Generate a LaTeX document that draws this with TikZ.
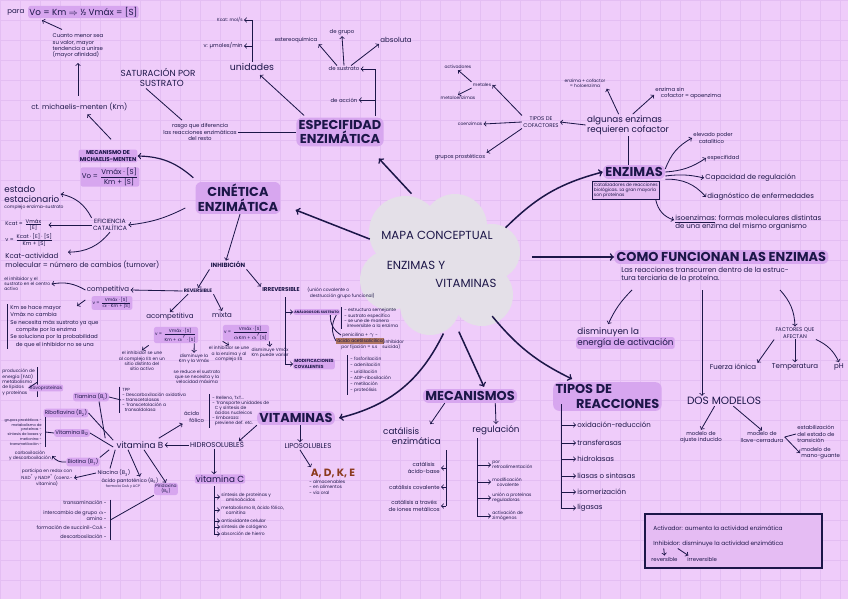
\documentclass[tikz,border=0pt]{standalone}
\usepackage{fontspec}
\setmainfont{Poppins}
\usetikzlibrary{shapes.geometric}

\definecolor{paper}{HTML}{EFCCFA}
\definecolor{gridc}{HTML}{E4BEF3}
\definecolor{ink}{HTML}{1C1648}
\definecolor{hl}{HTML}{D7A6EF}
\definecolor{cloudc}{HTML}{E4E0E8}
\definecolor{rust}{HTML}{8B3A1E}
\definecolor{boxc}{HTML}{E5BCF3}

\newcommand{\frx}[2]{$\frac{\mbox{#1}}{\mbox{#2}}$}
\newcommand{\frxb}[2]{$\frac{\mbox{#1}}{\mbox{\rule{0pt}{1.5em}#2}}$}

\tikzset{
	every node/.style={text=ink, inner sep=1pt},
	ttl/.style={font=\fontsize{11}{12.5}\selectfont\bfseries, fill=hl, rounded corners=5pt, align=center, inner sep=2pt},
	mid/.style={font=\fontsize{7.5}{8.5}\selectfont, align=center},
	txt/.style={font=\fontsize{6}{7}\selectfont, align=center},
	sml/.style={font=\fontsize{4.6}{5.4}\selectfont, align=center},
	tny/.style={font=\fontsize{3.8}{4.4}\selectfont, align=center},
	hlt/.style={fill=hl, rounded corners=2pt},
	arr/.style={->, draw=ink, line width=0.7pt},
	bigarr/.style={->, draw=ink, line width=1.3pt},
	brk/.style={draw=ink, line width=0.7pt},
}

\begin{document}
\begin{tikzpicture}[x=0.3mm, y=-0.3mm]
			%%%%% START %%%%%
			\useasboundingbox (0,0) rectangle (848,599);
			\fill[paper] (0,0) rectangle (848,599);
			\foreach \gx in {0,20,...,840} \draw[gridc, line width=0.5pt] (\gx,0) -- (\gx,599);
			\foreach \gy in {0,20,...,580} \draw[gridc, line width=0.5pt] (0,\gy) -- (848,\gy);
			
			% cloud
			\fill[cloudc] (405,232) circle (10.8mm);
			\fill[cloudc] (455,226) circle (9.6mm);
			\fill[cloudc] (492,252) circle (8.4mm);
			\fill[cloudc] (482,295) circle (9.3mm);
			\fill[cloudc] (430,305) circle (9mm);
			\fill[cloudc] (390,280) circle (9mm);
			\fill[cloudc] (442,265) circle (15mm);
			\node[ellipse, minimum width=46mm, minimum height=41mm] (cl) at (441,265) {};
			\node[font=\fontsize{10}{11}\selectfont] (mapa) at (437,235) {MAPA CONCEPTUAL};
			\node[font=\fontsize{10}{11}\selectfont] (ey) at (416,265) {ENZIMAS Y};
			\node[font=\fontsize{10}{11}\selectfont] (vitm) at (466,283) {VITAMINAS};
			
			% titles
			\node[ttl] (espec) at (340,132) {ESPECIFIDAD\\ENZIMÁTICA};
			\node[ttl] (cinet) at (238,198) {CINÉTICA\\ENZIMÁTICA};
			\node[ttl] (enz) at (634,172) {ENZIMAS};
			\node[ttl, anchor=west] (como) at (614,257) {COMO FUNCIONAN LAS ENZIMAS};
			\node[ttl] (mec) at (470,396) {MECANISMOS};
			\node[ttl, align=left, anchor=north west] (tiposr) at (553,382) {TIPOS DE\\\hspace*{1.6em}REACCIONES};
			\node[ttl] (vitam) at (296,418) {VITAMINAS};
			
			\draw[bigarr] (cl.160) -- ([shift={(15,12)}]cinet.east);
			\draw[bigarr] ([shift={(0,-8)}]cl.115) -- ([shift={(-5,12)}]espec.south east);
			\draw[bigarr] (cl.30) to[bend left=15] (enz.west);
			\draw[bigarr] ([shift={(14,-8)}]cl.east) -- (como.west);
			\draw[bigarr] (cl.-45) to[bend right=12] ([shift={(19,-3)}]tiposr.north west);
			\draw[bigarr] (cl.-75) -- ([shift={(14,-2)}]mec.north);
			\draw[bigarr] (cl.-88) to[bend left=25] ([shift={(4,0)}]vitam.east);
			
			% michaelis-menten
			\node[txt, anchor=west] (para) at (6,12) {para};
			\node[mid, hlt, anchor=west] (vokm) at (28,12) {Vo = Km $\Rightarrow$ ½ Vmáx = [S]};
			\node[sml, align=left] (cuanto) at (78,46) {Cuanto menor sea\\su valor, mayor\\tendencia a unirse\\(mayor afinidad)};
			\draw[arr] ([shift={(-16,-3)}]cuanto.north) -- ([shift={(14,2)}]vokm.south west);
			\node[txt, anchor=west] (km) at (30,107) {ct. michaelis-menten (Km)};
			\draw[arr, shorten <=5pt, shorten >=3pt] (km.north -| cuanto.south) -- (cuanto.south);
			\node[sml, hlt, font=\fontsize{4.8}{5.6}\selectfont\bfseries] (mecmm) at (108,156) {MECANISMO DE\\MICHAELIS-MENTEN};
			\node[txt, hlt] (vofor) at (110,177) {Vo = \frx{Vmáx · [S]}{Km + [S]}};
			\draw[arr] ([shift={(3,-10)}]mecmm.north) -- ([shift={(8,2)}]km.south);
			\draw[arr, line width=1pt] ([shift={(-2,-4)}]cinet.north west) to[bend right=20] (mecmm.east);
			
			\node[mid, align=left] (satur) at (158,77) {SATURACIÓN POR\\\hspace*{2.2em}SUSTRATO};
			\node[sml] (rasgo) at (200,132) {rasgo que diferencia\\las reacciones enzimáticas\\del resto};
			\draw[brk] ([shift={(-12,1)}]satur.south) -- ([shift={(-18,-2)}]rasgo.north);
			\draw[brk] (rasgo.east) -- (espec.west);
			
			% unidades
			\node[font=\fontsize{8}{9}\selectfont] (unid) at (252,67) {unidades};
			\draw[arr] ([shift={(8,-2)}]espec.north west) -- ([shift={(8,3)}]unid.south);
			\node[tny, anchor=east] (kcatu) at (244,20) {Kcat: mol/s};
			\node[sml, anchor=east] (vu) at (244,46) {v: µmoles/min};
			\draw[brk] (unid.north) -- (unid.north |- kcatu.east);
			\draw[arr] (unid.north |- kcatu.east) -- (kcatu.east);
			\draw[arr] (unid.north |- vu.east) -- (vu.east);
			
			% especifidad
			\node[sml] (desust) at (344,69) {de sustrato};
			\node[sml] (deacc) at (344,100) {de acción};
			\coordinate (esptop) at (375,116);
			\draw[brk] (esptop) -- (esptop |- desust.east);
			\draw[arr] (esptop |- desust.east) -- (desust.east);
			\draw[arr] (esptop |- deacc.east) -- (deacc.east);
			\node[sml] (estereo) at (296,40) {estereoquímica};
			\node[sml] (degrupo) at (342,32) {de grupo};
			\node[txt] (absol) at (396,40) {absoluta};
			\draw[arr] ([xshift=-6pt]desust.north) -- (estereo.south east);
			\draw[arr] (desust.north) -- (degrupo.south);
			\draw[arr] ([xshift=6pt]desust.north) -- (absol.south west);
			
			% cinetica
			\node[mid, align=left, anchor=west] (estado) at (3,194) {estado\\estacionario};
			\node[tny, anchor=west] (complejo) at (3,207) {complejo enzima-sustrato};
			\node[sml, font=\fontsize{5.2}{6}\selectfont] (efic) at (110,225) {EFICIENCIA\\CATALÍTICA};
			\draw[arr] (efic.north west) to[bend right=25] (estado.east);
			\draw[arr] ([shift={(-10,10)}]cinet.west) to[bend left=10] (efic.east);
			\node[sml, anchor=west] (kcatf) at (4,225) {Kcat = \frx{Vmáx}{[E]}};
			\node[sml, anchor=west] (vf) at (4,240) {v = \frx{Kcat · [E] · [S]}{Km + [S]}};
			\draw[arr, shorten >=4pt] (efic.west) -- (kcatf.east);
			\node[txt, align=left, anchor=west] (kcatact) at (4,261) {Kcat-actividad\\molecular = número de cambios (turnover)};
			\draw[arr] (efic.south) to[bend left=25] ([shift={(64,0)}]kcatact.north west);
			
			% inhibicion
			\node[sml, font=\fontsize{5.2}{6}\selectfont\bfseries] (inhib) at (228,265) {INHIBICIÓN};
			\draw[arr] ([shift={(2,0)}]cinet.south) -- ([shift={(-2,0)}]inhib.north);
			\node[tny, font=\fontsize{4.2}{5}\selectfont\bfseries] (revers) at (198,291) {REVERSIBLE};
			\node[sml, font=\fontsize{4.8}{5.6}\selectfont\bfseries] (irrev) at (281,290) {IRREVERSIBLE};
			\node[tny, align=left, anchor=west] (irrevtxt) at (306,293) {(unión covalente o\\\ \ destrucción grupo funcional)};
			\draw[arr] (inhib.south west) -- (revers.north);
			\draw[arr] (inhib.south east) -- (irrev.north west);
			
			\node[txt] (compet) at (108,290) {competitiva};
			\node[tny, hlt] (compf) at (112,303) {v = \frx{Vmáx · [S]}{$\alpha$ · Km + [S]}};
			\draw[arr] (revers.west) -- (compet.east);
			\node[tny, align=left, anchor=west] (elinh) at (3,284) {el inhibidor y el\\sustrato en el centro\\activo};
			\draw[arr] (compet.west) to[bend right=20] (elinh.east);
			\node[align=left, anchor=north west, font=\fontsize{4.6}{6.3}\selectfont] (complist) at (9,304) {Km se hace mayor\\Vmáx no cambia\\Se necesita más sustrato ya que\\\quad compite por la enzima\\Se soluciona por la probabilidad\\\quad de que el inhibidor no se una};
			\draw[brk] ([xshift=-1pt]complist.north west) -- ([xshift=-1pt]complist.south west);
			\draw[arr] ([shift={(-6,-3)}]compf.west) -- ([shift={(68,2)}]complist.north west);
			
			\node[txt] (acomp) at (170,317) {acompetitiva};
			\node[tny, hlt] (acompf) at (176,335) {v = \frxb{Vmáx · [S]}{Km + $\alpha'$ · [S]}};
			\draw[arr] ([shift={(-10,0)}]revers.south) -- (acomp.north);
			\node[tny] (acomp1) at (142,361) {el inhibidor se une\\al complejo ES en un\\sitio distinto del\\sitio activo};
			\node[tny] (acomp2) at (194,359) {disminuye la\\Km y la Vmáx};
			\node[tny] (acomp3) at (197,377) {se reduce el sustrato\\que se necesita y la\\velocidad máxima};
			\draw[arr] ([shift={(-5,2)}]acompf.south west) -- (acomp1.north);
			\draw[arr] ([shift={(-4,0)}]acompf.south east) -- (acomp2.north);
			
			\node[txt] (mixta) at (222,315) {mixta};
			\node[tny, hlt] (mixtaf) at (246,333) {v = \frxb{Vmáx · [S]}{$\alpha$Km + $\alpha'$[S]}};
			\draw[arr] (revers.south east) -- (mixta.north);
			\node[tny] (mixta1) at (229,354) {el inhibidor se une\\a la enzima y al\\complejo ES};
			\node[tny] (mixta2) at (270,353) {disminuye Vmáx\\Km puede variar};
			\draw[arr] (mixtaf.south west) -- (mixta1.north);
			\draw[arr] (mixtaf.south east) -- (mixta2.north);
			
			\coordinate (irrbar) at (285,297);
			\node[tny, hlt, anchor=west, font=\fontsize{2.9}{3.5}\selectfont\bfseries] (analog) at (293,312) {ANÁLOGOS DEL SUSTRATO};
			\node[tny, align=left, anchor=west] (anlist) at (343,318) {- estructura semejante\\- sustrato específico\\- se une de manera\\\ \ irreversible a la enzima};
			\draw[brk] ([xshift=-1pt]anlist.north west) -- ([xshift=-1pt]anlist.south west);
			\node[tny, anchor=west] (penic) at (341,335) {penicilina + $\gamma$ -};
			\node[tny, anchor=west, fill=rust!70] (acido) at (336,341) {ácido acetilsalicílico};
			\node[tny, anchor=west] (fijac) at (340,347) {por fijación = s.s};
			\node[tny, align=left, anchor=west] (suic) at (381,344) {(inhibidor\\suicida)};
			\draw[brk] ([shift={(-10,0)}]analog.south east) to[bend right=30] (penic.west);
			\draw[brk] ([shift={(-4,0)}]analog.south east) to[bend right=30] (acido.west);
			\node[tny, hlt, align=left, anchor=west, font=\fontsize{3.8}{4.4}\selectfont\bfseries] (modcovi) at (293,364) {MODIFICACIONES\\COVALENTES};
			\draw[brk] (irrbar) -- (irrbar |- modcovi.west);
			\draw[arr] (irrbar |- analog.west) -- (analog.west);
			\draw[arr] (irrbar |- modcovi.west) -- (modcovi.west);
			\node[align=left, anchor=west, font=\fontsize{3.8}{5.4}\selectfont] (mclist) at (349,375) {- fosforilación\\- adenilación\\- uridilación\\- ADP-ribosilación\\- metilación\\- proteólisis};
			\draw[brk] ([xshift=-1pt]mclist.north west) -- ([xshift=-1pt]mclist.south west);
			
			% enzimas
			\node[tny, draw=ink, fill=boxc, align=left, anchor=north west, inner sep=1.5pt] (enzbox) at (592,181) {Catalizadores de reacciones\\biológicas. La gran mayoría\\son proteínas};
			\node[mid, align=left] (algunas) at (628,125) {algunas enzimas\\requieren cofactor};
			\draw[brk] (enz.north -| algunas.south) -- (algunas.south);
			\node[tny] (holo) at (585,83) {enzima + cofactor\\= holoenzima};
			\node[sml, align=left, anchor=west] (apo) at (654,93) {enzima sin\\\quad cofactor = apoenzima};
			\draw[arr] ([xshift=-8pt]algunas.north) -- (holo.south east);
			\draw[arr] ([xshift=4pt]algunas.north) -- ([shift={(0,2)}]apo.west);
			\node[sml] (tipcof) at (541,122) {TIPOS DE\\COFACTORES};
			\draw[arr] (algunas.west) -- (tipcof.east);
			\node[tny] (metales) at (482,85) {metales};
			\node[tny] (activ) at (458,67) {activadores};
			\node[tny] (metalo) at (458,98) {metaloenzimas};
			\node[tny] (coenz) at (470,124) {coenzimas};
			\node[sml] (gprost) at (460,157) {grupos prostéticos};
			\draw[arr] (tipcof.north west) -- (metales.east);
			\draw[arr] (tipcof.west) -- (coenz.east);
			\draw[arr] (tipcof.south west) -- (gprost.north east);
			\draw[arr] (metales.north west) -- (activ.south);
			\draw[arr] (metales.south west) -- (metalo.north);
			
			\node[sml, align=left, anchor=west] (poder) at (692,138) {elevado poder\\\quad catalítico};
			\node[sml, anchor=west] (espfd) at (706,158) {especifidad};
			\node[txt, anchor=west] (capreg) at (704,178) {Capacidad de regulación};
			\node[txt, anchor=west] (diagn) at (706,197) {diagnóstico de enfermedades};
			\draw[arr] ([shift={(0,-3)}]enz.east) to[bend left=20] (poder.west);
			\draw[arr] (enz.east) to[bend right=15] (espfd.west);
			\draw[arr] ([shift={(0,4)}]enz.east) to[bend left=10] (capreg.west);
			\draw[arr] (enz.south east) to[bend left=25] (diagn.west);
			\node[txt, align=left, anchor=west] (isoenz) at (674,223) {\underline{isoenzimas}: formas moleculares distintas\\de una enzima del mismo organismo};
			\draw[arr] ([shift={(-4,0)}]enzbox.south east) to[bend right=30] ([shift={(0,-3)}]isoenz.west);
			
			% como funcionan
			\node[txt, align=left, anchor=north west] (reac) at (620,266) {Las reacciones transcurren dentro de la estruc-\\tura terciaria de la proteína.};
			\node[mid, anchor=west] (dismin) at (576,332) {disminuyen la};
			\node[mid, hlt, anchor=west] (energ) at (576,343) {energía de activación};
			\coordinate (distop) at (632,290);
			\draw[arr] (distop) to[bend right=10] ([shift={(0,-2)}]dismin.north);
			\node[sml] (factores) at (795,333) {FACTORES QUE\\AFECTAN};
			\coordinate (fctop) at (780,290);
			\draw[arr] (fctop) to[bend left=20] (factores.north);
			\node[txt] (fion) at (733,367) {Fuerza iónica};
			\node[txt] (temp) at (795,367) {Temperatura};
			\node[txt] (ph) at (839,367) {pH};
			\draw[arr] (factores.south west) -- (fion.north east);
			\draw[arr] (factores.south) -- (temp.north);
			\draw[arr] (factores.south east) to[bend left=20] (ph.north);
			\node[font=\fontsize{9}{10}\selectfont] (dosmod) at (724,401) {DOS MODELOS};
			\coordinate (dmtop) at (702,290);
			\draw[arr] (dmtop) -- (dmtop |- dosmod.north);
			\node[sml] (ajuste) at (701,437) {modelo de\\ajuste inducido};
			\node[sml] (llave) at (762,437) {modelo de\\llave-cerradura};
			\draw[arr] ([xshift=-8pt]dosmod.south) -- (ajuste.north);
			\draw[arr] ([xshift=8pt]dosmod.south) -- (llave.north);
			\node[sml, align=left, anchor=west] (estab) at (796,434) {estabilización\\del estado de\\transición};
			\node[sml, align=left, anchor=west] (mano) at (800,453) {modelo de\\mano-guante};
			\draw[brk] (llave.east) -- (estab.west);
			\draw[arr] (llave.east) -- (mano.west);
			
			\draw[ink, fill=boxc, line width=1pt] (645,514) rectangle (822,568);
			\node[sml, anchor=west, font=\fontsize{5}{6}\selectfont] (activ2) at (652,528) {Activador: aumenta la actividad enzimática};
			\node[sml, anchor=west, font=\fontsize{5}{6}\selectfont] (inhib2) at (652,544) {Inhibidor: disminuye la actividad enzimática};
			\node[sml, anchor=west] (rev2) at (650,559) {reversible};
			\node[sml, anchor=west] (irrev2) at (686,559) {irreversible};
			\draw[arr] ([xshift=10pt]inhib2.south west) -- (rev2.north);
			\draw[arr] ([xshift=22pt]inhib2.south west) -- ([xshift=2pt]irrev2.north west);
			
			% mecanismos
			\node[mid, align=left] (catenz) at (412,436) {catálisis\\\quad enzimática};
			\node[mid] (regul) at (496,430) {regulación};
			\draw[arr] ([shift={(22,0)}]mec.south west) -- ([shift={(-12,-2)}]catenz.north east);
			\draw[arr] ([shift={(-22,0)}]mec.south east) -- (regul.north);
			\coordinate (catbar) at (446,450);
			\node[sml, anchor=east] (cab) at (441,468) {catálisis\\ácido-base};
			\node[sml, anchor=east] (ccov) at (441,487) {catálisis covalente};
			\node[sml, anchor=east] (cion) at (441,506) {catálisis a través\\de iones metálicos};
			\draw[brk] (catbar) -- (catbar |- cion.east);
			\foreach \it in {cab,ccov,cion} \draw[arr] (catbar |- \it.east) -- (\it.east);
			\coordinate (regbar) at (477,438);
			\node[tny, align=left, anchor=west] (retro) at (491,465) {por\\retroalimentación};
			\node[tny, align=left, anchor=west] (modcov) at (491,482) {modificación\\\quad covalente};
			\node[tny, align=left, anchor=west] (union) at (491,498) {unión a proteínas\\reguladoras};
			\node[tny, align=left, anchor=west] (zimog) at (491,516) {activación de\\zimógenos};
			\draw[brk] (regbar) -- (regbar |- zimog.west);
			\foreach \it in {retro,modcov,union,zimog} \draw[arr] (regbar |- \it.west) -- (\it.west);
			
			% tipos de reacciones
			\coordinate (tipbar) at (561,404);
			\node[txt, anchor=west] (oxred) at (576,425) {oxidación-reducción};
			\node[txt, anchor=west] (transf) at (576,443) {transferasas};
			\node[txt, anchor=west] (hidrol) at (576,459) {hidrolasas};
			\node[txt, anchor=west] (liasas) at (576,476) {liasas o sintasas};
			\node[txt, anchor=west] (isom) at (576,492) {isomerización};
			\node[txt, anchor=west] (ligas) at (576,508) {ligasas};
			\draw[brk] (tipbar) -- (tipbar |- ligas.west);
			\foreach \it in {oxred,transf,hidrol,liasas,isom,ligas} \draw[arr] (tipbar |- \it.west) -- (\it.west);
			
			% vitaminas
			\node[txt] (hidro) at (217,445) {HIDROSOLUBLES};
			\node[txt] (lipo) at (308,446) {LIPOSOLUBLES};
			\draw[arr] (vitam.south west) -- ([shift={(22,0)}]hidro.north);
			\draw[arr] ([shift={(4,0)}]vitam.south) -- ([shift={(-8,0)}]lipo.north);
			\node[font=\fontsize{9}{10}\selectfont\bfseries, text=rust] (adke) at (333,473) {A, D, K, E};
			\draw[arr] ([shift={(-8,0)}]lipo.south) -- ([shift={(-22,0)}]adke.north);
			\node[tny, align=left, anchor=north west] (adkelist) at (308,479) {- almacenables\\- en alimentos\\- vía oral};
			\node[mid, hlt] (vitC) at (220,479) {vitamina C};
			\draw[arr] ([shift={(-3,0)}]hidro.south) -- ([shift={(-6,0)}]vitC.north);
			\coordinate (vcbar) at (214,486);
			\node[tny, align=left, anchor=west] (vc1) at (220,497) {síntesis de proteínas y\\\quad aminoácidos};
			\node[tny, align=left, anchor=west] (vc2) at (220,510) {metabolismo B, ácido fólico,\\\quad carnitina};
			\node[tny, anchor=west] (vc3) at (220,521) {antioxidante celular};
			\node[tny, anchor=west] (vc4) at (220,527) {síntesis de colágeno};
			\node[tny, anchor=west] (vc5) at (220,534) {absorción de hierro};
			\draw[brk] (vcbar) -- (vcbar |- vc5.west);
			\foreach \it in {vc1,vc2,vc3,vc4,vc5} \draw[arr] (vcbar |- \it.west) -- (\it.west);
			
			\node[mid] (vitB) at (140,445) {vitamina B};
			\draw[arr] (hidro.west) -- (vitB.east);
			\node[sml, align=left] (afol) at (194,417) {ácido\\\quad fólico};
			\draw[arr] ([shift={(-6,-2)}]vitB.north east) -- (afol.south west);
			\node[tny, align=left, anchor=west] (afollist) at (211,411) {- Relleno, TxT...\\- Transporte unidades de\\\ \ C y síntesis de\\\ \ ácidos nucleicos\\- Embarazo:\\\ \ previene def. etc.};
			\draw[brk] ([xshift=-1pt]afollist.north west) -- ([xshift=-1pt]afollist.south west);
			
			\node[sml, hlt] (tiam) at (91,397) {Tiamina (B\textsubscript{1})};
			\node[tny, align=left, anchor=west] (tialist) at (121,400) {TPP\\- Descarboxilación oxidativa\\- transcetolasas\\- Transcetolación a\\\ \ transaldolasa};
			\draw[brk] ([xshift=-1pt]tialist.north west) -- ([xshift=-1pt]tialist.south west);
			\draw[brk] (tiam.east) -- (tialist.west);
			\draw[brk] ([shift={(-10,-2)}]vitB.north west) -- ([shift={(8,0)}]tiam.south);
			\node[sml, hlt] (ribo) at (66,413) {Riboflavina (B\textsubscript{2})};
			\draw[brk] ([shift={(-2,0)}]vitB.north west) -- (ribo.east);
			\node[tny, align=left, anchor=west] (riblist) at (1,382) {producción de\\energía (FAD)\\metabolismo\\de lípidos\\y proteínas};
			\draw[brk] ([xshift=1pt]riblist.north east) -- ([xshift=1pt]riblist.south east);
			\node[tny, hlt] (flavo) at (46,388) {flavoproteínas};
			\draw[brk] ([xshift=1pt]riblist.east) -- (flavo.west);
			
			\node[sml, hlt] (vb12) at (72,433) {Vitamina B\textsubscript{12}};
			\draw[brk] (vb12.east) -- ([shift={(-2,2)}]vitB.west);
			\node[align=right, anchor=east, font=\fontsize{3.1}{4.2}\selectfont] (b12list) at (43,432) {grupos prostéticos -\\metabolismo de\\proteínas -\\síntesis de bases y\\metionina -\\transmetilación -};
			\draw[brk] ([xshift=2pt]b12list.north east) -- ([xshift=2pt]b12list.south east);
			\draw[brk] ([xshift=2pt]b12list.east) -- (vb12.west);
			
			\node[sml, hlt] (biot) at (83,462) {Biotina (B\textsubscript{7})};
			\draw[brk] ([shift={(-6,0)}]vitB.south west) -- (biot.north east);
			\node[tny] (carbox) at (30,456) {carboxilación\\y descarboxilación};
			\draw[arr] (biot.west) to[bend left=30] (carbox.east);
			
			\node[sml] (niac) at (114,473) {Niacina (B\textsubscript{3})};
			\draw[brk] (vitB.south west) -- ([shift={(-4,0)}]niac.north);
			\node[tny] (redox) at (47,478) {participa en redox con\\NAD\textsuperscript{+} y NADP\textsuperscript{+} (coenz.-\\vitamina)};
			\draw[arr] (niac.west) -- (redox.east);
			
			\node[font=\fontsize{4.2}{5}\selectfont] (panto) at (130,481) {ácido pantoténico (B\textsubscript{5})};
			\node[font=\fontsize{3}{3.5}\selectfont] (coa) at (123,487) {forma la CoA y ACP};
			\draw[arr] ([shift={(-12,0)}]vitB.south) -- ([shift={(10,0)}]panto.north);
			
			\node[tny, hlt] (b6) at (166,489) {Piridoxina\\(B\textsubscript{6})};
			\draw[arr] ([shift={(4,0)}]vitB.south) -- (b6.north);
			\node[align=right, anchor=east, font=\fontsize{4.2}{5}\selectfont] (b6list) at (108,520) {transaminación -\\[3pt]intercambio de grupo $\alpha$-\\amino -\\[3pt]formación de succinil-CoA -\\[3pt]descarboxilación -};
			\draw[brk] ([xshift=2pt]b6list.north east) -- ([xshift=2pt]b6list.south east);
			\draw[brk] (b6.south west) -- ([xshift=2pt]b6list.east);
			%%%%% END %%%%%
\end{tikzpicture}
\end{document}
